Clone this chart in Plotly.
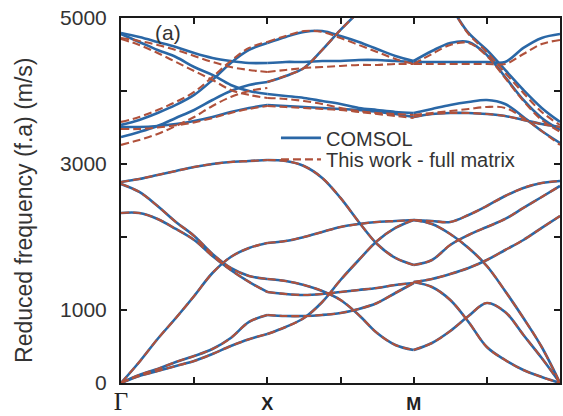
import plotly.graph_objects as go

# ---- path coordinate (Γ=0, X=2, M=4, Γ=6) ----
GX_U = [0, 0.25, 0.5, 0.75, 1, 1.25, 1.5, 1.75, 2]
XM_U = [2, 2.25, 2.5, 2.75, 3, 3.25, 3.5, 3.75, 4]
MG_U = [4, 4.25, 4.5, 4.75, 5, 5.25, 5.5, 5.75, 6]

# ---- COMSOL bands (m/s), Γ-X ----
gx_b1 = [0, 96, 164, 233, 301, 397, 507, 600, 671]
gx_b2 = [0, 110, 192, 288, 370, 466, 616, 836, 932]
gx_b3 = [0, 288, 603, 890, 1192, 1507, 1726, 1850, 1918]
gx_b4 = [2329, 2329, 2247, 2110, 1959, 1740, 1548, 1384, 1247]
gx_b5 = [2726, 2617, 2425, 2206, 2014, 1767, 1576, 1466, 1425]
gx_b6 = [2754, 2795, 2850, 2904, 2959, 3000, 3028, 3041, 3055]
gx_b7 = [4795, 4740, 4672, 4603, 4521, 4453, 4411, 4384, 4384]
gx_b8 = [4781, 4672, 4562, 4466, 4329, 4220, 4083, 4000, 3959]
gx_b9 = [3535, 3603, 3699, 3809, 3946, 4151, 4384, 4562, 4658]
gx_b10 = [3370, 3439, 3521, 3631, 3740, 3877, 4000, 4083, 4124]
gx_b11 = [3507, 3507, 3521, 3548, 3589, 3644, 3713, 3768, 3809]

# ---- COMSOL bands, X-M ----
xm_b1 = [671, 767, 890, 1110, 1411, 1685, 1945, 2124, 2233]
xm_b2 = [932, 918, 918, 932, 959, 1014, 1096, 1233, 1370]
xm_b3 = [1918, 1945, 2000, 2069, 2137, 2178, 2206, 2219, 2233]
xm_b4 = [1247, 1219, 1206, 1219, 1247, 1274, 1302, 1343, 1370]
xm_b5 = [1425, 1398, 1343, 1260, 1137, 932, 685, 521, 452]
xm_b6 = [3055, 3041, 2973, 2809, 2535, 2206, 1904, 1713, 1617]
xm_b7 = [4384, 4398, 4398, 4411, 4411, 4425, 4425, 4411, 4398]
xm_b8 = [4658, 4740, 4809, 4822, 4754, 4672, 4576, 4480, 4411]
xm_b9 = [4124, 4206, 4315, 4562, 4836, 5083, 5300, 5450, 5500]
xm_b10 = [3959, 3932, 3905, 3863, 3822, 3768, 3740, 3713, 3699]
xm_b11 = [3809, 3795, 3781, 3768, 3754, 3740, 3713, 3685, 3644]

# ---- COMSOL bands, M-Γ ----
mg_b1 = [2233, 2178, 2041, 1850, 1603, 1260, 890, 493, 0]
mg_b2 = [452, 548, 712, 918, 1096, 973, 658, 342, 0]
mg_b3 = [1384, 1315, 1137, 836, 493, 315, 178, 82, 0]
mg_b4 = [1384, 1425, 1493, 1576, 1685, 1822, 1959, 2124, 2288]
mg_b5 = [1617, 1685, 1891, 2028, 2137, 2247, 2398, 2548, 2699]
mg_b6 = [2233, 2219, 2206, 2302, 2425, 2562, 2672, 2740, 2767]
mg_b7 = [4398, 4398, 4398, 4398, 4398, 4398, 4590, 4727, 4781]
mg_b8 = [4411, 4548, 4658, 4672, 4494, 4192, 3877, 3630, 3466]
mg_b9 = [5500, 5400, 5150, 4795, 4562, 4288, 4014, 3768, 3576]
mg_b10 = [3699, 3754, 3809, 3850, 3877, 3822, 3644, 3452, 3288]
mg_b11 = [3644, 3685, 3699, 3699, 3685, 3658, 3603, 3548, 3507]

# ---- This work (full matrix): bands that differ visibly from COMSOL ----
gx_b7r = [4727, 4685, 4631, 4562, 4480, 4398, 4329, 4288, 4261]
gx_b8r = [4713, 4631, 4521, 4398, 4274, 4151, 4014, 3946, 3905]
gx_b9r = [3576, 3644, 3740, 3850, 3987, 4192, 4411, 4590, 4672]
gx_b10r = [3261, 3329, 3411, 3521, 3644, 3795, 3918, 4000, 4041]
gx_b11r = [3480, 3480, 3500, 3530, 3570, 3630, 3700, 3755, 3795]
xm_b7r = [4261, 4288, 4315, 4329, 4343, 4357, 4357, 4370, 4370]
xm_b8r = [4672, 4754, 4822, 4809, 4726, 4631, 4535, 4439, 4370]
xm_b10r = [3905, 3891, 3863, 3822, 3768, 3726, 3699, 3685, 3672]
xm_b11r = [3795, 3781, 3768, 3754, 3740, 3713, 3685, 3658, 3630]
mg_b7r = [4370, 4370, 4370, 4370, 4370, 4370, 4507, 4644, 4699]
mg_b8r = [4370, 4507, 4631, 4658, 4480, 4178, 3863, 3603, 3440]
mg_b9r = [5500, 5400, 5150, 4781, 4535, 4247, 3973, 3713, 3535]
mg_b10r = [3672, 3699, 3726, 3754, 3781, 3768, 3630, 3452, 3261]

# ---- axis ticks ----
X_TICKS = [0, 1, 2, 3, 4, 5, 6]
X_LABELS = ['<span style="font-family:Liberation Serif;font-size:25px">Γ</span>', '',
            '<b>X</b>', '', '<b>M</b>', '',
            '<span style="font-family:Liberation Serif;font-size:25px">Γ</span>']
Y_TICKS = [0, 1000, 2000, 3000, 4000, 5000]
Y_LABELS = ['0', '1000', '', '3000', '', '5000']

comsol = [
    (GX_U, gx_b1), (GX_U, gx_b2), (GX_U, gx_b3), (GX_U, gx_b4), (GX_U, gx_b5),
    (GX_U, gx_b6), (GX_U, gx_b7), (GX_U, gx_b8), (GX_U, gx_b9), (GX_U, gx_b10), (GX_U, gx_b11),
    (XM_U, xm_b1), (XM_U, xm_b2), (XM_U, xm_b3), (XM_U, xm_b4), (XM_U, xm_b5),
    (XM_U, xm_b6), (XM_U, xm_b7), (XM_U, xm_b8), (XM_U, xm_b9), (XM_U, xm_b10), (XM_U, xm_b11),
    (MG_U, mg_b1), (MG_U, mg_b2), (MG_U, mg_b3), (MG_U, mg_b4), (MG_U, mg_b5),
    (MG_U, mg_b6), (MG_U, mg_b7), (MG_U, mg_b8), (MG_U, mg_b9), (MG_U, mg_b10), (MG_U, mg_b11),
]
thiswork = [
    (GX_U, gx_b1), (GX_U, gx_b2), (GX_U, gx_b3), (GX_U, gx_b4), (GX_U, gx_b5),
    (GX_U, gx_b6), (GX_U, gx_b7r), (GX_U, gx_b8r), (GX_U, gx_b9r), (GX_U, gx_b10r), (GX_U, gx_b11r),
    (XM_U, xm_b1), (XM_U, xm_b2), (XM_U, xm_b3), (XM_U, xm_b4), (XM_U, xm_b5),
    (XM_U, xm_b6), (XM_U, xm_b7r), (XM_U, xm_b8r), (XM_U, xm_b9), (XM_U, xm_b10r), (XM_U, xm_b11r),
    (MG_U, mg_b1), (MG_U, mg_b2), (MG_U, mg_b3), (MG_U, mg_b4), (MG_U, mg_b5),
    (MG_U, mg_b6), (MG_U, mg_b7r), (MG_U, mg_b8r), (MG_U, mg_b9r), (MG_U, mg_b10r), (MG_U, mg_b11),
]

BLUE = "#2a67a6"
RED = "#b0513b"

fig = go.Figure()
for i, (u, f) in enumerate(comsol):
    fig.add_trace(go.Scatter(x=u, y=f, mode="lines", name="COMSOL", legend="legend",
                             showlegend=(i == 0),
                             line=dict(color=BLUE, width=2.6, shape="spline", smoothing=1.0)))
for i, (u, f) in enumerate(thiswork):
    fig.add_trace(go.Scatter(x=u, y=f, mode="lines", name="This work - full matrix", legend="legend2",
                             showlegend=(i == 0),
                             line=dict(color=RED, width=2.1, dash="8px,4px", shape="spline", smoothing=1.0)))

axis_common = dict(showline=True, linecolor="#1a1a1a", linewidth=2, mirror="ticks",
                   ticks="inside", ticklen=6, tickwidth=1.5, tickcolor="#1a1a1a",
                   showgrid=False, zeroline=False)

legend_common = dict(xanchor="left", yanchor="top", bgcolor="rgba(0,0,0,0)",
                     font=dict(size=20, color="#333333"), itemwidth=40)

fig.update_layout(
    width=563, height=416,
    margin=dict(l=121, r=3, t=18, b=33),
    paper_bgcolor="white", plot_bgcolor="white",
    font=dict(family="Liberation Sans, Arial, sans-serif", color="#333333"),
    xaxis=dict(range=[0, 6], tickmode="array", tickvals=X_TICKS, ticktext=X_LABELS,
               tickfont=dict(size=18, color="#222222"), ticklabelstandoff=3,
               automargin=False, **axis_common),
    yaxis=dict(range=[0, 5000], tickmode="array", tickvals=Y_TICKS, ticktext=Y_LABELS,
               tickfont=dict(size=21, color="#333333"), ticklabelstandoff=8,
               automargin=False, **axis_common),
    legend=dict(x=0.353, y=0.725, **legend_common),
    legend2=dict(x=0.353, y=0.666, **legend_common),
    showlegend=True,
    annotations=[
        dict(text="Reduced frequency (f.a) (m/s)", textangle=-90, xref="paper", yref="paper",
             x=-0.221, y=0.474, xanchor="center", yanchor="middle", showarrow=False,
             font=dict(size=23, color="#333333")),
        dict(text="(a)", xref="x", yref="y", x=0.64, y=4808, showarrow=False,
             font=dict(size=21, color="#333333")),
    ],
)

fig.write_html("out.html")
